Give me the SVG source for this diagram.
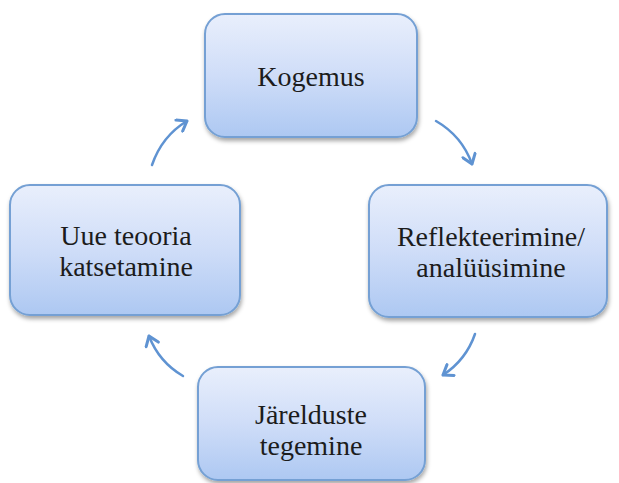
<svg xmlns="http://www.w3.org/2000/svg" width="619" height="483" viewBox="0 0 619 483">
<style>
.box{fill:url(#g);stroke:#74a0d4;stroke-width:2;filter:url(#sh)}
.t{font-family:"Liberation Serif","Times New Roman",serif;font-size:28px;fill:#1c1c1c;text-anchor:middle}
.arr{fill:none;stroke:#5f93d2;stroke-width:2.5;stroke-linecap:round;marker-end:url(#ah)}
</style>
<defs>
<linearGradient id="g" x1="0" y1="0" x2="0" y2="1">
<stop offset="0" stop-color="#e9effc"/>
<stop offset="0.5" stop-color="#cfddf8"/>
<stop offset="1" stop-color="#adc8f2"/>
</linearGradient>
<filter id="sh" x="-10%" y="-10%" width="125%" height="130%">
<feDropShadow dx="1" dy="3" stdDeviation="2" flood-color="#000" flood-opacity="0.35"/>
</filter>
<marker id="ah" markerWidth="16" markerHeight="16" refX="12" refY="8" orient="auto" markerUnits="userSpaceOnUse">
<path d="M3,1.5 L12,8 L3,14.5" fill="none" stroke="#5f93d2" stroke-width="3" stroke-linecap="round" stroke-linejoin="round"/>
</marker>
</defs>
<g id="connectors">
<path class="arr" d="M152,165 Q162,136 187,121"/>
<path class="arr" d="M436,121 Q462,136 472,164"/>
<path class="arr" d="M475,334 Q466,360 443,375"/>
<path class="arr" d="M183,376 Q159,362 149,336"/>
</g>
<g id="kogemus">
<rect class="box" x="205" y="14" width="212" height="123" rx="20"/>
<text class="t" x="311" y="86">Kogemus</text>
</g>
<g id="reflekteerimine">
<rect class="box" x="369" y="185" width="238" height="132" rx="20"/>
<text class="t" x="491" y="246">Reflekteerimine/</text>
<text class="t" x="491" y="277">analüüsimine</text>
</g>
<g id="jareldused">
<rect class="box" x="198" y="367" width="227" height="113" rx="20"/>
<text class="t" x="311" y="424">Järelduste</text>
<text class="t" x="311" y="455">tegemine</text>
</g>
<g id="uue-teooria">
<rect class="box" x="10" y="185" width="230" height="130" rx="20"/>
<text class="t" x="126" y="245">Uue teooria</text>
<text class="t" x="126" y="276">katsetamine</text>
</g>
</svg>
